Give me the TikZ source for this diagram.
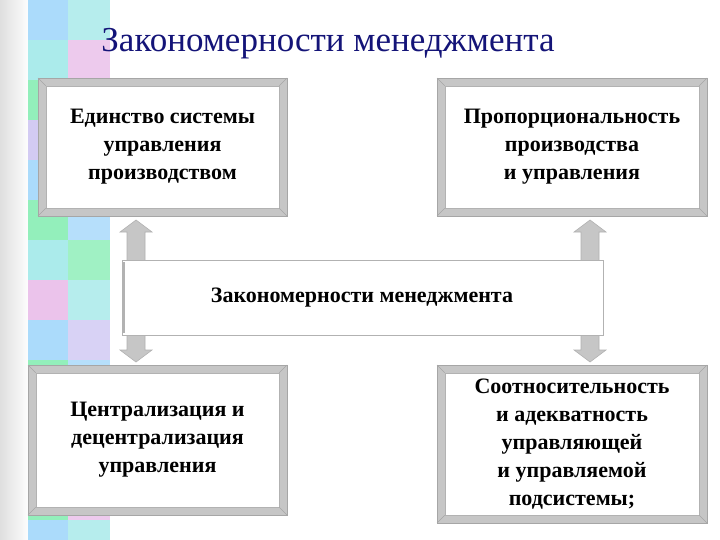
\documentclass[tikz,border=0pt]{standalone}
\usepackage{fontspec}
\setmainfont{Liberation Serif}
\definecolor{tblue}{RGB}{20,20,120}
\definecolor{mA}{RGB}{150,230,230}
\definecolor{mB}{RGB}{120,235,170}
\definecolor{mC}{RGB}{200,190,240}
\definecolor{mD}{RGB}{150,210,250}
\definecolor{mE}{RGB}{230,180,230}
\tikzset{
  outerbev/.style={fill=gray!45,draw=gray!70,line width=0.6pt},
  innerbev/.style={fill=white,draw=gray!60,line width=0.6pt},
  btxt/.style={font=\bfseries\fontsize{22}{28}\selectfont,align=center},
  arrsty/.style={fill=gray!45,draw=gray!60,line width=0.6pt}
}
\newcommand{\bevbox}[6]{%
  \fill[outerbev] (#2,#3) rectangle (#4,#5);
  \node[innerbev,minimum width=#4-#2-16,minimum height=#5-#3-16,inner sep=0pt] (#1) at ({(#2+#4)/2},{(#3+#5)/2}) {};
  \draw[gray!70] (#2,#3)--(#1.north west) (#4,#3)--(#1.north east) (#2,#5)--(#1.south west) (#4,#5)--(#1.south east);
  \node[btxt] (#1t) at (#1.center) {#6};
}
\newcommand{\vdarr}[3]{% x, ytop, ybottom
  \draw[arrsty] (#1,#2) -- (#1+16,#2+12) -- (#1+9,#2+12) -- (#1+9,#3-12) -- (#1+16,#3-12) -- (#1,#3)
    -- (#1-16,#3-12) -- (#1-9,#3-12) -- (#1-9,#2+12) -- (#1-16,#2+12) -- cycle;
}
\begin{document}
\begin{tikzpicture}[x=1pt,y=-1pt]
\useasboundingbox (0,0) rectangle (720,540);
\fill[white] (0,0) rectangle (720,540);
\shade[left color=gray!25,right color=white] (0,0) rectangle (30,540);
\foreach \r/\c in {0/mD,1/mA,2/mB,3/mC,4/mD,5/mB,6/mA,7/mE,8/mD,9/mB,10/mA,11/mC,12/mB,13/mD}{
  \fill[\c!80] (28,\r*40) rectangle (68,\r*40+40);
}
\foreach \r/\c in {0/mA,1/mE,2/mC,3/mB,4/mA,5/mD,6/mB,7/mA,8/mC,9/mD,10/mB,11/mA,12/mE,13/mA}{
  \fill[\c!70] (68,\r*40) rectangle (110,\r*40+40);
}
\node[text=tblue,font=\fontsize{35}{40}\selectfont] (title) at (328,44) {Закономерности менеджмента};
\vdarr{136}{220}{362}
\vdarr{590}{220}{362}
\bevbox{b1}{38}{78}{287}{216}{Единство системы\\управления\\производством}
\bevbox{b2}{437}{78}{707}{216}{Пропорциональность\\производства\\и управления}
\fill[white,draw=gray!60] (122,260) rectangle (603,335);
\draw[gray!60,line width=2pt] (124,262)--(124,333);
\node[btxt] (mid) at (362,298) {Закономерности менеджмента};
\bevbox{b3}{28}{365}{287}{515}{Централизация и\\децентрализация\\управления}
\bevbox{b4}{437}{365}{707}{523}{Соотносительность\\и адекватность\\управляющей\\и управляемой\\подсистемы;}
\end{tikzpicture}
\end{document}
